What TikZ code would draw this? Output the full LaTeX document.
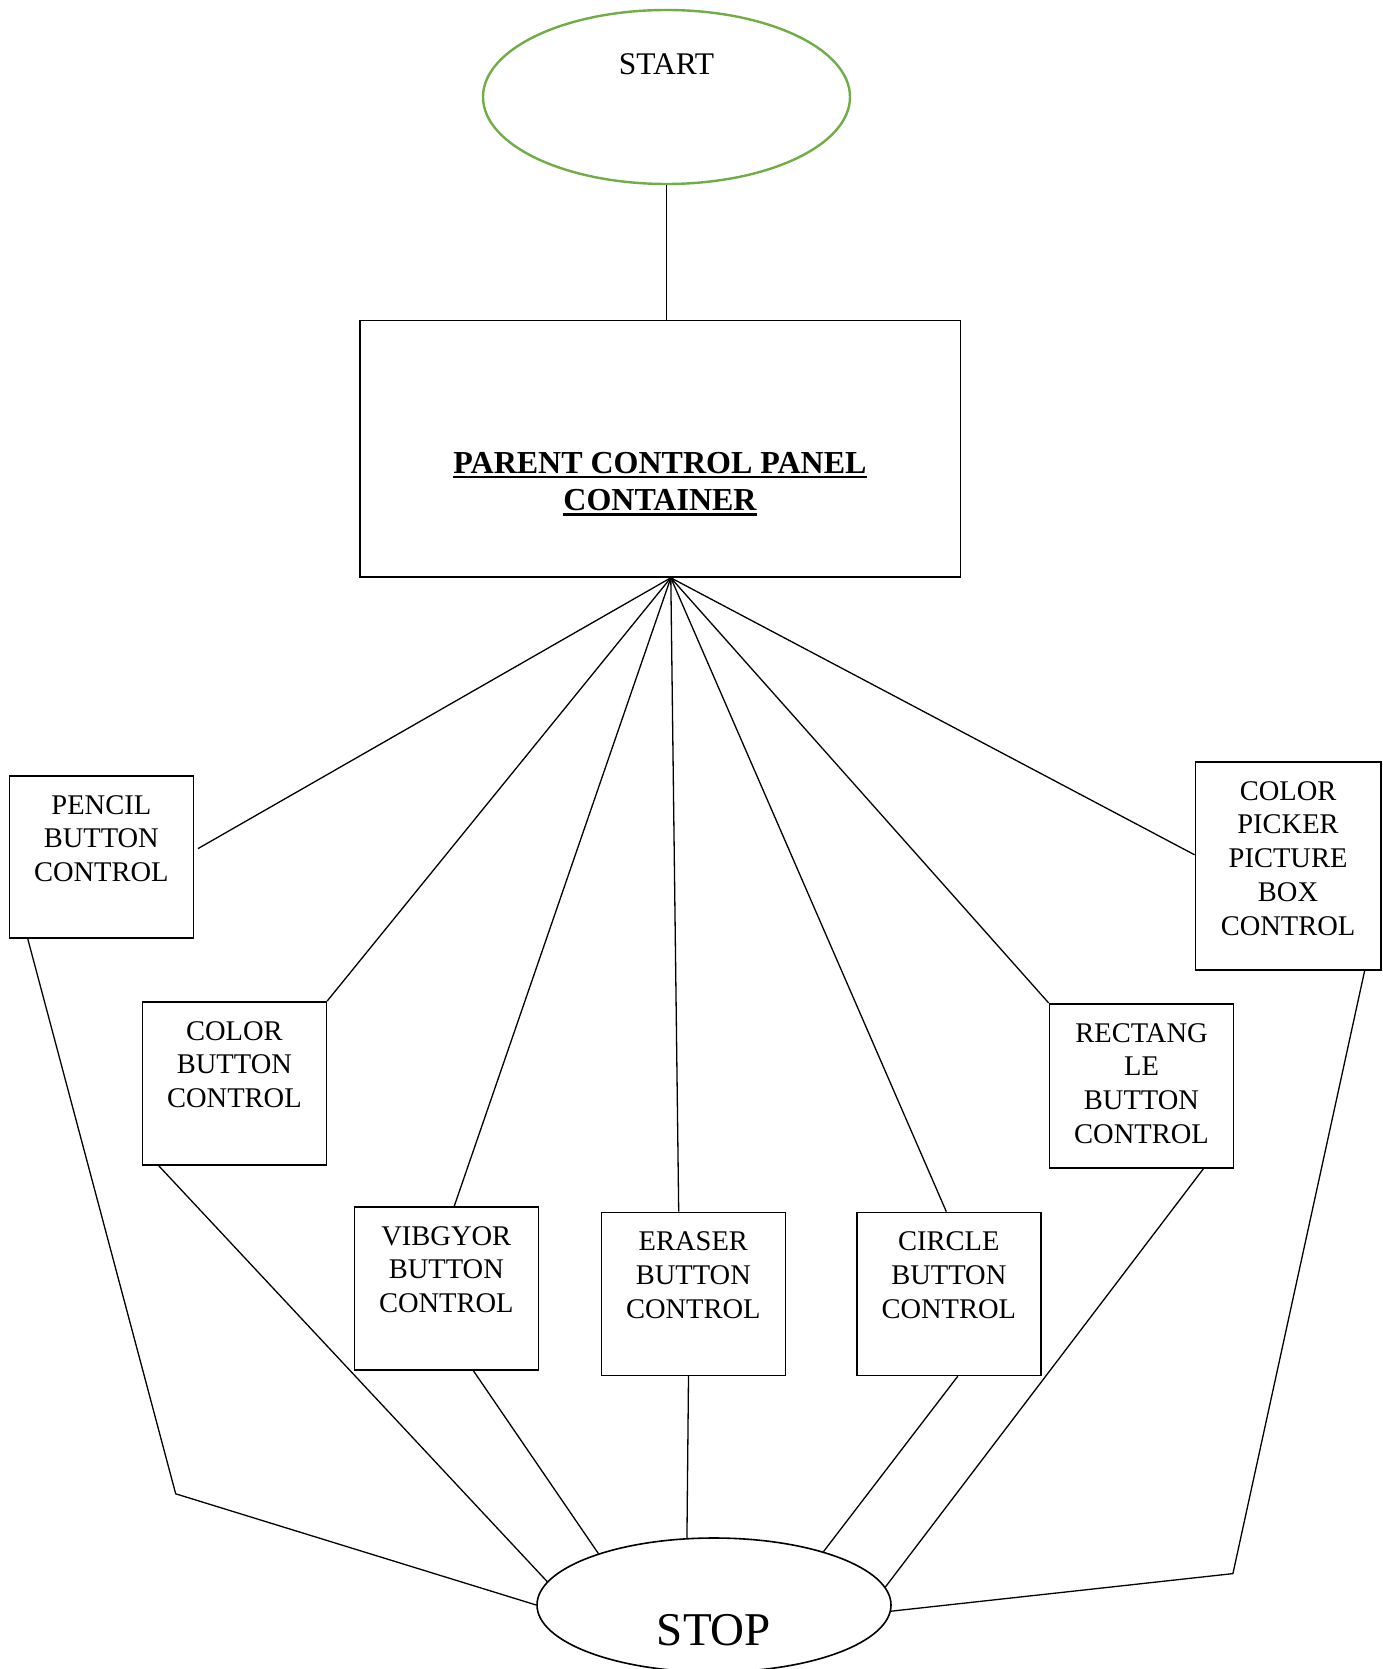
\documentclass[tikz,border=0pt]{standalone}
\usepackage{fontspec}
\setmainfont{Liberation Serif}
\usetikzlibrary{shapes.geometric}
\definecolor{startgreen}{HTML}{70AD47}
\newcommand{\boxtext}[3]{\parbox[t][#2][t]{#1}{\centering\rule{0pt}{38.3pt}#3}}
\tikzset{
  ctrl/.style={draw, line width=1.6pt, inner sep=0pt, anchor=north west, font=\fontsize{28.5}{33.8}\selectfont},
  conn/.style={line width=1.3pt},
  ptext/.style={anchor=base, inner sep=0pt, font=\fontsize{32}{36}\selectfont\bfseries},
  ovalnode/.style={ellipse, draw, inner sep=0pt},
}
\begin{document}
\begin{tikzpicture}[x=1pt,y=-1pt]
\useasboundingbox (0,0) rectangle (1382,1669);
% start
\node[ovalnode, draw=startgreen, line width=2.4pt, minimum width=367pt, minimum height=174pt] (startn) at (666.5,97) {};
\node[anchor=base, inner sep=0pt, font=\fontsize{31.5}{36}\selectfont] (starttxt) at (666.5,75) {START};
% parent
\node[draw, line width=1.6pt, minimum width=600.4pt, minimum height=256.5pt, inner sep=0pt] (parent) at (660.2,448.75) {};
\node[ptext] (pt1) at (660,473.3) {PARENT CONTROL PANEL};
\node[ptext] (pt2) at (660,510) {CONTAINER};
\draw[line width=2.7pt] ([yshift=-3.6pt]pt1.base west) -- ([yshift=-3.6pt]pt1.base east);
\draw[line width=2.7pt] ([yshift=-4.6pt]pt2.base west) -- ([yshift=-4.6pt]pt2.base east);
\draw[conn] (startn.south) -- (startn.south |- parent.north);
% control boxes
\node[ctrl] (pencil) at (8.5,775) {\boxtext{184pt}{162pt}{PENCIL\\BUTTON\\CONTROL}};
\node[ctrl] (colorb) at (141.6,1001) {\boxtext{184pt}{163pt}{COLOR\\BUTTON\\CONTROL}};
\node[ctrl] (vib) at (353.5,1206) {\boxtext{184pt}{163pt}{VIBGYOR\\BUTTON\\CONTROL}};
\node[ctrl] (eraser) at (600.5,1211.6) {\boxtext{184pt}{163pt}{ERASER\\BUTTON\\CONTROL}};
\node[ctrl] (circ) at (856,1211.6) {\boxtext{184pt}{163pt}{CIRCLE\\BUTTON\\CONTROL}};
\node[ctrl] (rect) at (1048.7,1003) {\boxtext{184pt}{164pt}{RECTANG\\LE\\BUTTON\\CONTROL}};
\node[ctrl] (picker) at (1194.6,761) {\boxtext{185.3pt}{208pt}{COLOR\\PICKER\\PICTURE\\BOX\\CONTROL}};
% stop
\node[ovalnode, line width=1.6pt, minimum width=354pt, minimum height=134pt] (stopn) at (714,1605) {};
\node[anchor=base, inner sep=0pt, font=\fontsize{47}{52}\selectfont] (stoptxt) at (714,1645) {STOP};
% fan connectors
\coordinate (fan) at ([xshift=10.6pt]parent.south);
\coordinate (p1) at (198,848.6);
\draw[conn] (fan) -- (p1);
\draw[conn] (fan) -- (colorb.north east);
\draw[conn] (fan) -- ([xshift=8pt]vib.north);
\draw[conn] (fan) -- ([xshift=-14.6pt]eraser.north);
\draw[conn] (fan) -- ([xshift=-2.5pt]circ.north);
\draw[conn] (fan) -- (rect.north west);
\draw[conn] (fan) -- ([yshift=11pt]picker.west);
% bottom connectors
\coordinate (kl) at (175.7,1493.8);
\coordinate (kr) at (1232.9,1573.6);
\draw[conn] ([xshift=19.2pt]pencil.south west) -- (kl) -- (stopn.west);
\draw[conn] ([xshift=17pt]colorb.south west) -- (stopn.172.7);
\draw[conn] ([xshift=27pt]vib.south) -- (stopn.156.5);
\draw[conn] ([xshift=-4.8pt]eraser.south) -- (stopn.112.1);
\draw[conn] ([xshift=9pt]circ.south) -- (stopn.26.8);
\draw[conn] ([xshift=62pt]rect.south) -- (stopn.6.3);
\draw[conn] ([xshift=76.6pt]picker.south) -- (kr) -- (stopn.358.8);
\end{tikzpicture}
\end{document}
